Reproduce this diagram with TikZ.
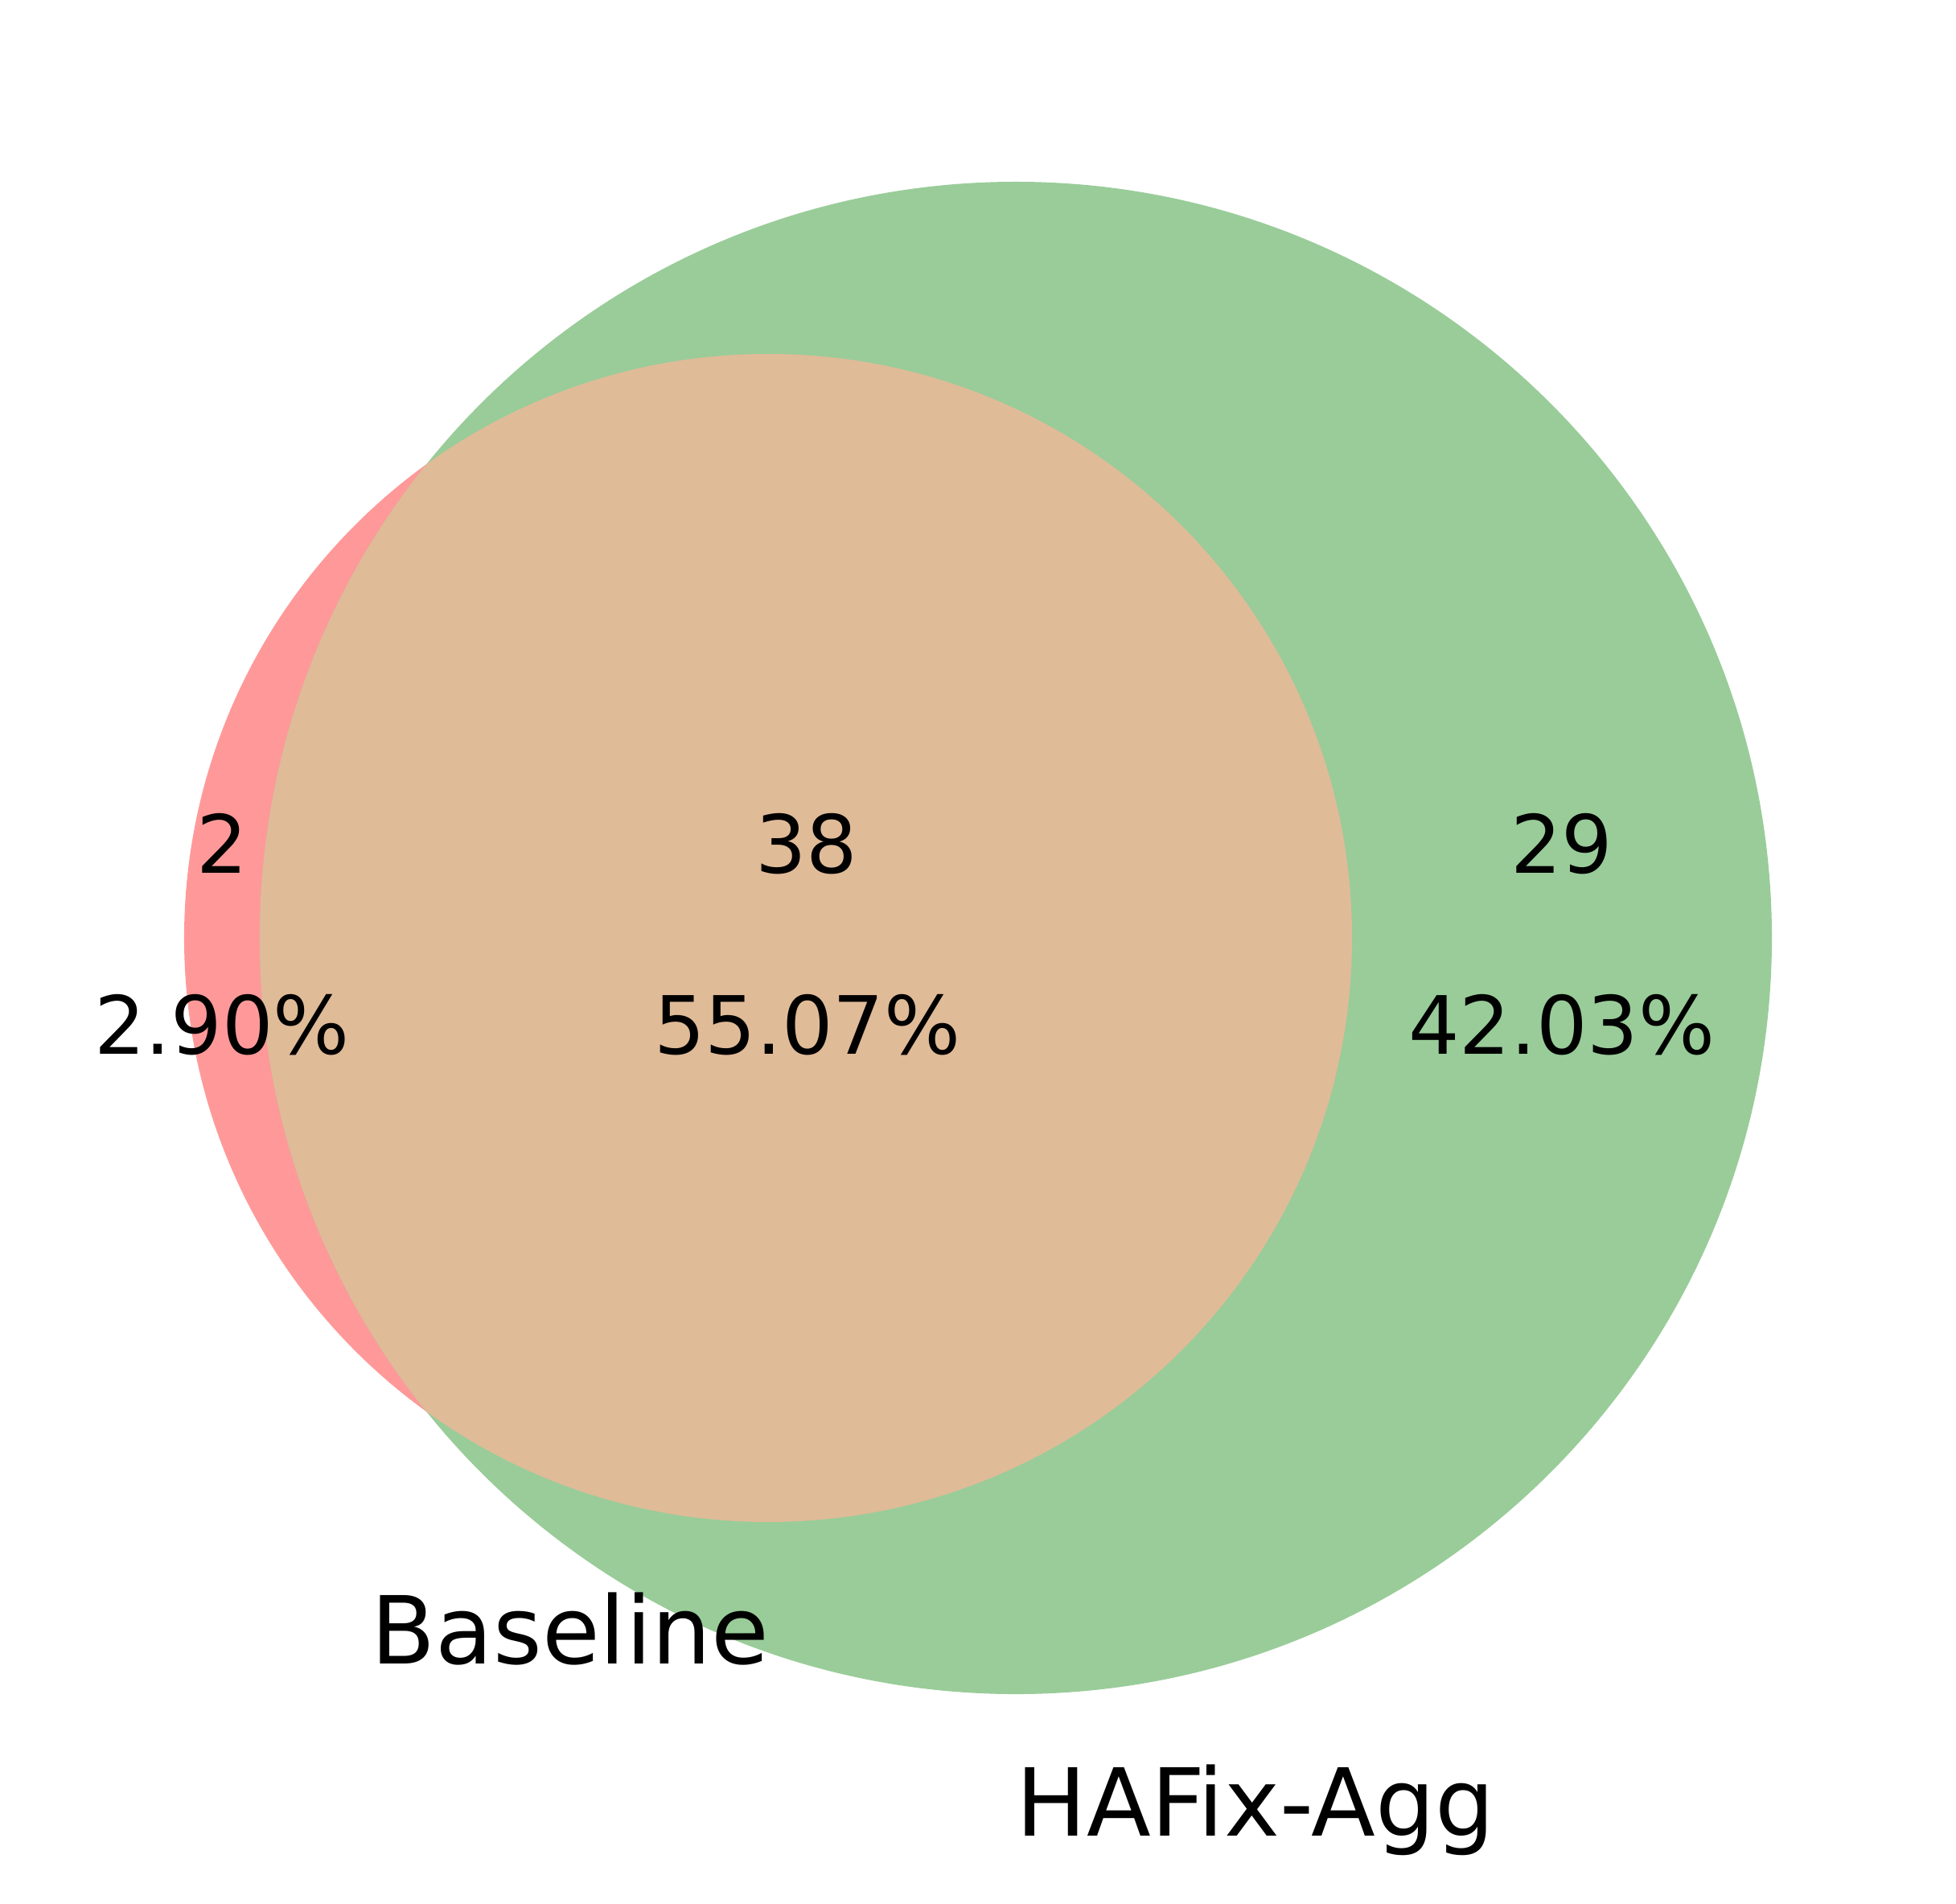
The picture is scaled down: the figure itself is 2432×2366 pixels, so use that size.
\documentclass[tikz,border=0pt]{standalone}
\usepackage{fontspec}
\setmainfont{DejaVu Sans}
\definecolor{redset}{RGB}{255,153,153}
\definecolor{greenset}{RGB}{153,204,153}
\definecolor{overlap}{RGB}{224,187,152}
\begin{document}
\begin{tikzpicture}[x=0.12pt,y=-0.12pt,
  num/.style={inner sep=0pt,anchor=base,font=\fontsize{12}{14}\selectfont},
  setlabel/.style={inner sep=0pt,anchor=base,font=\fontsize{14}{17}\selectfont}]
\useasboundingbox (0,0) rectangle (2432,2366);
\fill[white] (0,0) rectangle (2432,2366);
\fill[redset] (955,1166) circle[radius=87.12pt];
\fill[greenset] (1263,1166) circle[radius=112.8pt];
\begin{scope}
  \clip (955,1166) circle[radius=87.12pt];
  \fill[overlap] (1263,1166) circle[radius=112.8pt];
\end{scope}
\node[num] (n10) at (276,1085) {2};
\node[num] (n11) at (1003,1085) {38};
\node[num] (n01) at (1942,1085) {29};
\node[num] (p10) at (276,1310) {2.90\%};
\node[num] (p11) at (1004,1310) {55.07\%};
\node[num] (p01) at (1942,1310) {42.03\%};
\node[setlabel] (la) at (709,2068) {Baseline};
\node[setlabel] (lb) at (1561,2282) {HAFix-Agg};
\end{tikzpicture}
\end{document}
